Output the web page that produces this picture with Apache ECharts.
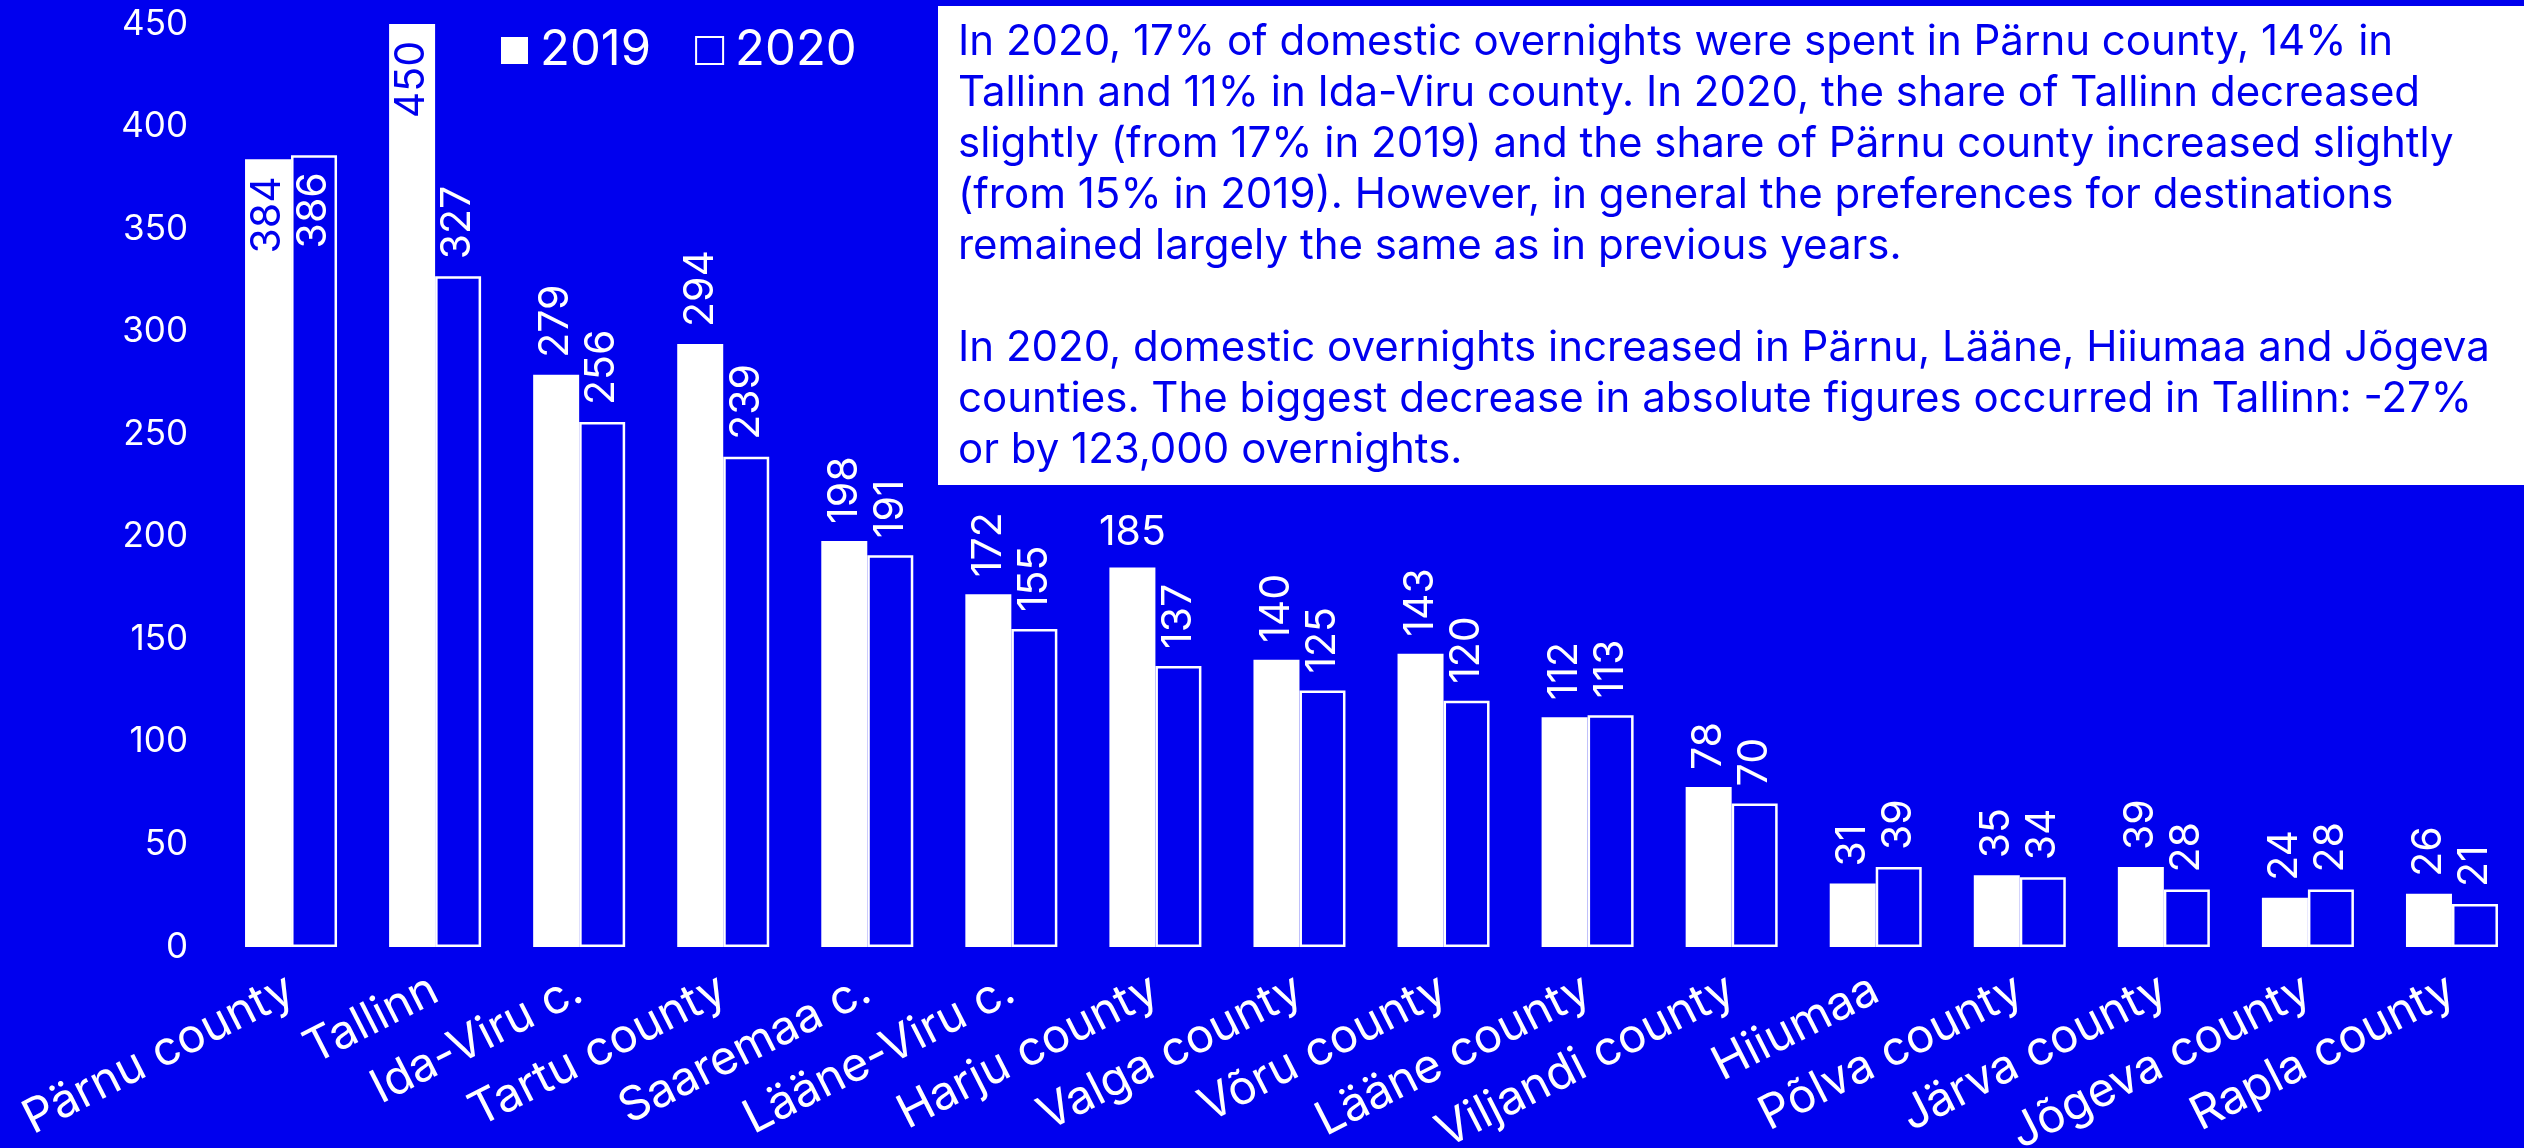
<!DOCTYPE html>
<html>
<head>
<meta charset="utf-8">
<script src="https://cdn.jsdelivr.net/npm/echarts@6/dist/echarts.min.js"></script>
<style>
html,body{margin:0;padding:0;background:#0000EE;}
#main{width:2524px;height:1148px;}
</style>
</head>
<body>
<div id="main"></div>
<script>
const categories = ['Pärnu county','Tallinn','Ida-Viru c.','Tartu county','Saaremaa c.','Lääne-Viru c.','Harju county','Valga county','Võru county','Lääne county','Viljandi county','Hiiumaa','Põlva county','Järva county','Jõgeva county','Rapla county'];
const values2019 = [384,450,279,294,198,172,185,140,143,112,78,31,35,39,24,26];
const values2020 = [386,327,256,239,191,155,137,125,120,113,70,39,34,28,28,21];
const yTicks = [0,50,100,150,200,250,300,350,400,450];
const seriesNames = ['2019','2020'];
const noteLines = [
  'In 2020, 17% of domestic overnights were spent in Pärnu county, 14% in',
  'Tallinn and 11% in Ida-Viru county. In 2020, the share of Tallinn decreased',
  'slightly (from 17% in 2019) and the share of Pärnu county increased slightly',
  '(from 15% in 2019). However, in general the preferences for destinations',
  'remained largely the same as in previous years.',
  '',
  'In 2020, domestic overnights increased in Pärnu, Lääne, Hiiumaa and Jõgeva',
  'counties. The biggest decrease in absolute figures occurred in Tallinn: -27%',
  'or by 123,000 overnights.'
];

const BLUE = '#0000EE';
const FONT = 'Inter';

const insideTop2019 = [0,1];
const insideTop2020 = [0];
const horizontal2019 = [6];

const LBL = 41;
const topLabel = {show:true, position:'top', rotate:90, align:'left', verticalAlign:'middle', distance:17, color:'#fff', fontFamily:FONT, fontSize:LBL};
const insideLabel = (c) => ({show:true, position:'insideTop', rotate:90, align:'right', verticalAlign:'middle', distance:17, color:c, fontFamily:FONT, fontSize:LBL});
const horizLabel = {show:true, position:'top', rotate:0, align:'center', verticalAlign:'bottom', distance:14, color:'#fff', fontFamily:FONT, fontSize:LBL};

const data2019 = values2019.map((v,i)=>{
  if (insideTop2019.includes(i)) return {value:v, label:insideLabel(BLUE)};
  if (horizontal2019.includes(i)) return {value:v, label:horizLabel};
  return {value:v};
});
const data2020 = values2020.map((v,i)=>{
  if (insideTop2020.includes(i)) return {value:v, label:insideLabel('#fff')};
  return {value:v};
});

const chart = echarts.init(document.getElementById('main'), null, {renderer:'canvas'});
chart.setOption({
  backgroundColor: BLUE,
  animation:false,
  textStyle:{fontFamily:FONT},
  grid:{left:219, right:0, top:24, bottom:201, containLabel:false, outerBoundsMode:'none'},
  legend:{
    left:496, top:21, itemWidth:27, itemHeight:27, itemGap:44,
    icon:'rect',
    textStyle:{color:'#fff', fontSize:49, fontFamily:FONT, padding:[0,0,0,7]},
    data:seriesNames
  },
  xAxis:{
    type:'category', data:categories,
    axisLine:{show:false}, axisTick:{show:false},
    axisLabel:{interval:0, rotate:27, margin:40, color:'#fff', fontSize:47, fontFamily:FONT, hideOverlap:false}
  },
  yAxis:{
    type:'value', min:yTicks[0], max:yTicks[yTicks.length-1], interval:yTicks[1]-yTicks[0],
    axisLine:{show:false}, axisTick:{show:false}, splitLine:{show:false},
    axisLabel:{margin:31, color:'#fff', fontSize:35, fontFamily:FONT}
  },
  series:[
    {name:seriesNames[0], type:'bar', data:data2019, barWidth:46, barGap:'0%',
     itemStyle:{color:'#fff'}, label:topLabel},
    {name:seriesNames[1], type:'bar', data:data2020, barWidth:46, barGap:'0%',
     itemStyle:{color:BLUE, borderColor:'#fff', borderWidth:2.5}, label:topLabel}
  ],
  graphic:[
    {type:'rect', left:938, top:6, shape:{width:2524-938, height:479}, style:{fill:'#fff'}, z:10},
    {type:'text', left:958, top:17, z:11,
     style:{text:noteLines.join('\n'), fill:BLUE, font:'42px ' + FONT, lineHeight:51}}
  ]
});
</script>
</body>
</html>
